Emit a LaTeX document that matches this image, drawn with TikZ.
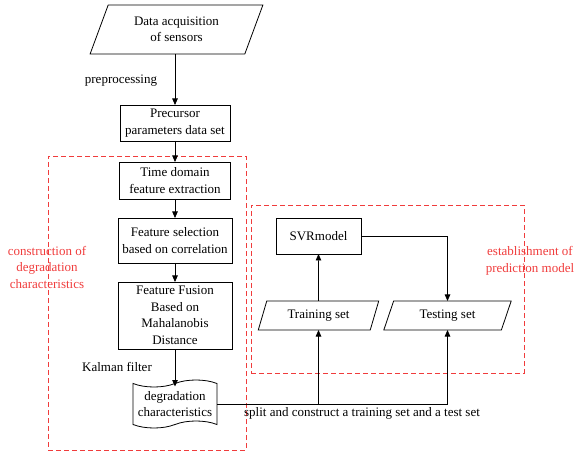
\documentclass[tikz,border=0pt]{standalone}
\usepackage{fontspec}
\setmainfont{Liberation Serif}
\usetikzlibrary{arrows.meta,shapes.geometric,shapes.symbols}
\newcommand\myfs{\fontsize{13}{16.5}\selectfont}
\definecolor{grpred}{RGB}{240,60,60}
\begin{document}
\begin{tikzpicture}[x=1pt,y=-1pt,
  base/.style={draw, line width=0.8pt, align=center, inner sep=0pt, outer sep=0pt, font=\myfs},
  rbox/.style={base, rectangle},
  para/.style={base, trapezium, trapezium left angle=66, trapezium right angle=114, trapezium stretches=true},
  doc/.style={base, tape, tape bend height=7pt},
  arr/.style={line width=0.8pt, -{Triangle[length=6.5pt,width=5.5pt]}},
  conn/.style={line width=0.8pt},
  grp/.style={draw=grpred, line width=0.8pt, dash pattern=on 5pt off 3pt, rectangle, inner sep=0pt},
  redlbl/.style={text=grpred, align=center, font=\myfs, inner sep=0pt},
  lbl/.style={align=center, font=\myfs, inner sep=0pt}]
\useasboundingbox (0,0) rectangle (576,457);
% groups
\node[grp, minimum width=198pt, minimum height=294pt] (g1) at (147,303) {};
\node[grp, minimum width=273pt, minimum height=168pt] (g2) at (387.5,289) {};
% nodes
\node[para, minimum width=173pt, minimum height=49pt] (data) at (176.5,29.5) {Data acquisition\\of sensors};
\node[rbox, minimum width=110pt, minimum height=36pt] (pre) at (175,123) {Precursor\\parameters data set};
\node[rbox, minimum width=111pt, minimum height=37pt] (time) at (175,180.5) {Time domain\\feature extraction};
\node[rbox, minimum width=114pt, minimum height=45pt] (sel) at (175,240.5) {Feature selection\\based on correlation};
\node[rbox, minimum width=114pt, minimum height=67pt] (fus) at (175,315.5) {Feature Fusion\\Based on\\Mahalanobis\\Distance};
\node[doc, minimum width=84pt, minimum height=48pt] (deg) at (175,404) {degradation\\characteristics};
\node[rbox, minimum width=85pt, minimum height=36pt] (svr) at (318.5,236) {SVRmodel};
\node[para, minimum width=121pt, minimum height=29pt] (train) at (318.5,315.5) {Training set};
\node[para, minimum width=128pt, minimum height=29pt] (test) at (447.5,315.5) {Testing set};
% labels
\node[lbl] (lpre) at (121,81) {preprocessing};
\node[lbl] (lkal) at (117,367) {Kalman filter};
\node[lbl] (lsplit) at (362,413) {split and construct a training set and a test set};
\node[redlbl] (l1) at (47,267) {construction of\\degradation\\characteristics};
\node[redlbl] (l2) at (530,261) {establishment of\\prediction model};
% connectors
\draw[arr] (pre.north |- data.south) -- (pre.north);
\draw[arr] (pre.south) -- (time.north);
\draw[arr] (time.south) -- (sel.north);
\draw[arr] (sel.south) -- (fus.north);
\draw[arr] (fus.south) -- ([yshift=-3pt]deg.north);
\coordinate (j1) at (train.south |- deg.east);
\coordinate (j2) at (test.south |- deg.east);
\draw[conn] (deg.east) -- (j2);
\draw[arr] (j1) -- (train.south);
\draw[arr] (j2) -- (test.south);
\draw[arr] (train.north) -- (svr.south);
\draw[arr] (svr.east) -| (test.north);
\end{tikzpicture}
\end{document}
